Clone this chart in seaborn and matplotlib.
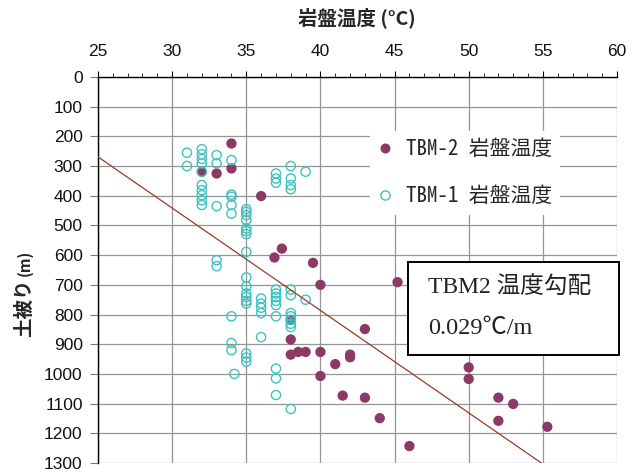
import numpy as np
import pandas as pd
import matplotlib
matplotlib.use("Agg")
import matplotlib.pyplot as plt
from matplotlib.lines import Line2D
from matplotlib.patches import Rectangle
import seaborn as sns

# TBM-1 rock temperature (°C) against overburden (m)
tbm1_temp = [31, 31,
             32, 32, 32, 32, 32, 32, 32, 32, 32, 32,
             33, 33, 33, 33, 33,
             34, 34, 34, 34, 34, 34, 34, 34, 34.2,
             35, 35, 35, 35, 35, 35, 35, 35, 35, 35, 35, 35, 35, 35, 35, 35, 35,
             36, 36, 36, 36, 36,
             37, 37, 37, 37, 37, 37, 37, 37, 37, 37, 37, 37,
             38, 38, 38, 38, 38, 38, 38, 38, 38, 38, 38, 38,
             39, 39]
tbm1_depth = [255, 300,
              243, 260, 276, 291, 319, 364, 381, 398, 415, 431,
              263, 291, 435, 617, 637,
              280, 396, 403, 431, 460, 806, 896, 920, 1000,
              445, 454, 465, 482, 510, 519, 529, 589, 675, 705, 729, 741, 754, 763, 931, 945, 959,
              746, 763, 777, 795, 876,
              325, 342, 356, 716, 729, 741, 754, 768, 806, 982, 1015, 1071,
              300, 342, 364, 378, 716, 735, 795, 806, 818, 831, 842, 1118,
              319, 750]

# TBM-2 rock temperature (°C) against overburden (m)
tbm2_temp = [32, 33, 34, 34, 36, 37.4, 36.9, 39.5, 40, 45.2, 43, 38, 38, 38,
             38.5, 39, 40, 40, 41, 42, 42, 41.5, 43, 44, 46, 50, 50, 52, 53,
             52, 55.3]
tbm2_depth = [319, 325, 224, 308, 401, 578, 608, 626, 700, 691, 849, 818, 884,
              935, 926, 926, 926, 1007, 967, 935, 944, 1073, 1080, 1149, 1243,
              978, 1017, 1080, 1101, 1158, 1178]

# TBM-2 geothermal gradient (°C/m) and temperature extrapolated to the surface
gradient = 0.029
surface_temp = 17.2

x_major = [25, 30, 35, 40, 45, 50, 55, 60]
y_major = list(range(0, 1301, 100))

label_tbm2 = "TBM-2 岩盤温度"
label_tbm1 = "TBM-1 岩盤温度"
box_lines = ["TBM2 温度勾配", "0.029℃/m"]

c_tbm2 = "#8e3866"
c_tbm1 = "#3fc2c2"
c_line = "#9a3b28"
c_grid = "#959595"

sns.set_theme(style="white")
plt.rcParams["font.family"] = ["Liberation Sans", "Noto Sans CJK JP", "DejaVu Sans"]

W, H = 637, 472
fig = plt.figure(figsize=(W / 100, H / 100), dpi=100)
left, right, top, bottom = 98, 617, 77, 463
ax = fig.add_axes([left / W, 1 - bottom / H, (right - left) / W, (bottom - top) / H])

df1 = pd.DataFrame({"temp": tbm1_temp, "depth": tbm1_depth})
df2 = pd.DataFrame({"temp": tbm2_temp, "depth": tbm2_depth})

sns.scatterplot(data=df2, x="temp", y="depth", ax=ax, color=c_tbm2, s=55,
                edgecolor="none", linewidth=0, zorder=3, legend=False)
sns.scatterplot(data=df1, x="temp", y="depth", ax=ax, marker="o", s=44,
                facecolor="none", edgecolor=c_tbm1, linewidth=1.0, zorder=4,
                legend=False)

# gradient line drawn over the whole depth range
line_depth = np.array([0, 1300])
line_temp = surface_temp + gradient * line_depth
sns.lineplot(x=line_temp, y=line_depth, ax=ax, color=c_line, lw=0.9,
             sort=False, estimator=None, zorder=5)

ax.set_xlim(25, 60)
ax.set_ylim(1300, 0)
ax.xaxis.tick_top()
ax.set_xticks(x_major)
ax.set_xticks(np.arange(25, 61, 1), minor=True)
ax.set_yticks(y_major)
ax.set_xlabel("")
ax.set_ylabel("")

ax.grid(True, which="major", color=c_grid, lw=0.9)
ax.set_axisbelow(True)
for s in ["right", "bottom"]:
    ax.spines[s].set_visible(False)
for s in ["top", "left"]:
    ax.spines[s].set_color("black")
    ax.spines[s].set_linewidth(1.0)

ax.tick_params(axis="x", which="major", top=True, bottom=False, direction="out",
               length=4, width=0.8, color="black", pad=9, labelsize=12.5,
               labelcolor="#111111")
ax.tick_params(axis="x", which="minor", top=True, bottom=False, direction="out",
               length=3, width=0.7, color="#333333")
ax.tick_params(axis="y", which="major", left=True, direction="out", length=6,
               width=0.8, color="#777777", pad=5, labelsize=12.5,
               labelcolor="#111111")

# axis titles
fig.text(357 / W, 1 - 18 / H, "岩盤温度 (°C)", ha="center", va="center",
         fontsize=14, fontweight="bold",
         family=["Noto Sans CJK JP", "DejaVu Sans"])
fig.text(25 / W, 1 - 308 / H, "土被り", ha="center", va="center", rotation=90,
         fontsize=14, fontweight="bold", family=["Noto Sans CJK JP"])
fig.text(25 / W, 1 - 263 / H, "(m)", ha="center", va="center", rotation=90,
         fontsize=11, fontweight="bold", family=["Noto Sans CJK JP"])

# legend
handles = [
    Line2D([], [], ls="none", marker="o", ms=7.2, mfc=c_tbm2, mec="none"),
    Line2D([], [], ls="none", marker="o", ms=6.6, mfc="none", mec=c_tbm1, mew=1.0),
]
leg = ax.legend(handles, [label_tbm2, label_tbm1], loc="upper left",
                bbox_to_anchor=(370 / W, 1 - 131 / H), bbox_transform=fig.transFigure,
                frameon=True, facecolor="white", edgecolor="none", framealpha=1,
                fancybox=False, borderaxespad=0, borderpad=0.35,
                handlelength=0.75, handletextpad=0.65, labelspacing=1.2,
                prop={"family": ["Noto Sans Mono CJK JP", "Noto Sans CJK JP"],
                      "size": 15})
leg.set_zorder(6)

# annotation box with the gradient value
box = Rectangle((408 / W, 1 - 355 / H), (619 - 408) / W, (355 - 262) / H,
                transform=fig.transFigure, facecolor="white", edgecolor="black",
                lw=1.4, zorder=7)
fig.add_artist(box)
fig.text(428 / W, 1 - 288 / H, box_lines[0], ha="left", va="center",
         fontsize=17, color="#222222", zorder=8,
         family=["Liberation Serif", "Noto Sans CJK JP"])
fig.text(428 / W, 1 - 328 / H, box_lines[1], ha="left", va="center",
         fontsize=17.5, color="#222222", zorder=8,
         family=["Liberation Serif", "Noto Sans CJK JP"])

fig.savefig("out.png", dpi=100)
